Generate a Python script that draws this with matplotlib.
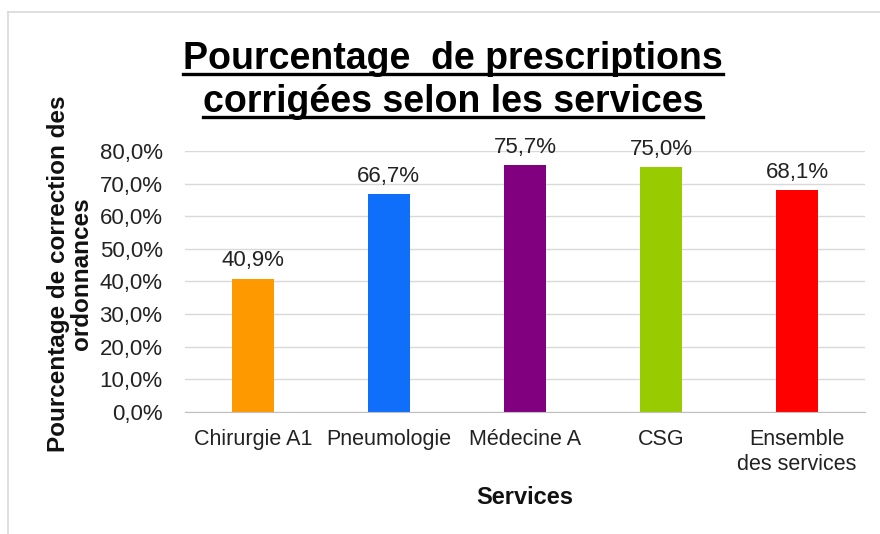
import matplotlib
matplotlib.use("Agg")
import matplotlib.pyplot as plt
from matplotlib.lines import Line2D
from matplotlib.ticker import FuncFormatter

categories = ["Chirurgie A1", "Pneumologie", "Médecine A", "CSG", "Ensemble\ndes services"]
values = [40.9, 66.7, 75.7, 75.0, 68.1]
colors = ["#FF9900", "#0F6EFA", "#800080", "#99CC00", "#FF0000"]
yticks = [0, 10, 20, 30, 40, 50, 60, 70, 80]
title_lines = ["Pourcentage  de prescriptions", "corrigées selon les services"]
ylabel = "Pourcentage de correction des\nordonnances"
xlabel = "Services"

plt.rcParams['font.family'] = ['Liberation Sans', 'DejaVu Sans']

fig = plt.figure(figsize=(8.8, 5.34), dpi=100)
ax = fig.add_axes([0.210, 0.2285, 0.773, 0.4887])

x = list(range(len(categories)))
bars = ax.bar(x, values, width=0.31, color=colors, zorder=3)
ax.set_xlim(-0.5, len(categories) - 0.5)
ax.set_ylim(0, 80)
ax.set_yticks(yticks)
ax.yaxis.set_major_formatter(FuncFormatter(lambda v, p: f"{v:.1f}%".replace(".", ",")))
ax.set_xticks(x)
ax.set_xticklabels(categories, fontsize=15.5, color="#222222", linespacing=1.25)
ax.tick_params(axis="y", labelsize=16, colors="#222222", length=0, pad=16)
ax.tick_params(axis="x", length=0, pad=12)
ax.grid(axis="y", color="#D9D9D9", linewidth=1, zorder=0)
for s in ["top", "right", "left"]:
    ax.spines[s].set_visible(False)
ax.spines["bottom"].set_color("#BFBFBF")
ax.spines["bottom"].set_zorder(4)

for xi, v in zip(x, values):
    ax.text(xi, v + 2.2, f"{v:.1f}%".replace(".", ","), ha="center", va="bottom",
            fontsize=16, color="#222222", clip_on=False)

fig.text(0.596, 1 - 498 / 534, xlabel, ha="center", va="center",
         fontsize=17, fontweight="bold", color="#111111")
fig.text(0.080, 0.487, ylabel, rotation=90, ha="center", va="center",
         fontsize=17.5, fontweight="bold", linespacing=1.0, color="#111111")

# title with underline
t1 = fig.text(0.515, 1 - 69 / 534, title_lines[0], ha="center", va="baseline",
              fontsize=27, fontweight="bold", color="#000000")
t2 = fig.text(0.515, 1 - 112 / 534, title_lines[1], ha="center", va="baseline",
              fontsize=27, fontweight="bold", color="#000000")
fig.canvas.draw()
r = fig.canvas.get_renderer()
for t in (t1, t2):
    bb = t.get_window_extent(r)
    x0, x1 = bb.x0 / fig.bbox.width, bb.x1 / fig.bbox.width
    yb = t.get_position()[1] - 5 / 534
    fig.add_artist(Line2D([x0, x1], [yb, yb], color="black", linewidth=2.4,
                          transform=fig.transFigure))

# outer frame
fig.add_artist(Line2D([8 / 880, 8 / 880], [0, 1 - 12 / 534], color="#D9D9D9",
                      linewidth=1.2, transform=fig.transFigure))
fig.add_artist(Line2D([8 / 880, 1], [1 - 12 / 534, 1 - 12 / 534], color="#D9D9D9",
                      linewidth=1.2, transform=fig.transFigure))

fig.savefig("out.png", dpi=100)
